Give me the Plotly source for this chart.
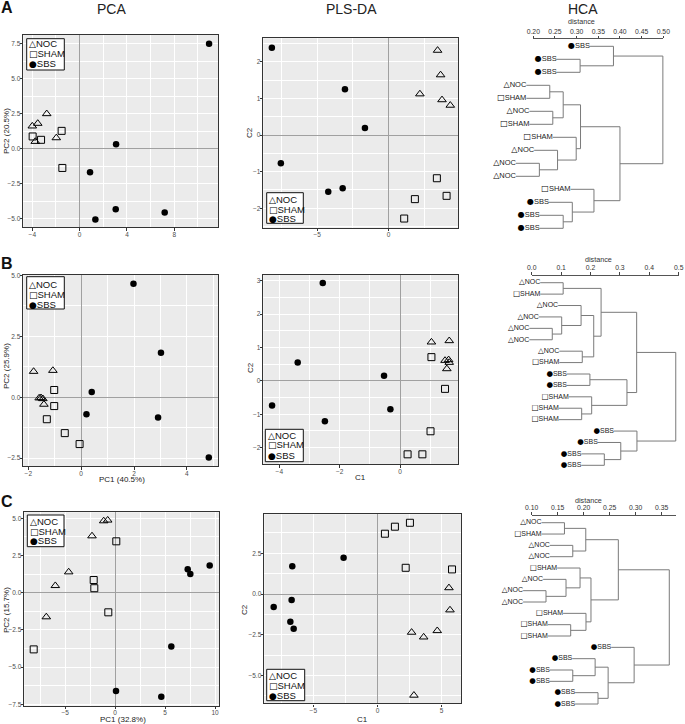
import plotly.graph_objects as go

W, H = 685, 724
FONT = "Liberation Sans, Arial, Helvetica, sans-serif"

# ---------------- data ----------------
groups = ["NOC", "SHAM", "SBS"]

# Row A
pca_a_noc_x = [-4.00, -3.54, -2.78, -3.75, -1.97]
pca_a_noc_y = [1.61, 1.80, 2.49, 0.51, 0.77]
pca_a_sham_x = [-3.97, -3.26, -1.52, -1.46]
pca_a_sham_y = [0.87, 0.63, 1.27, -1.38]
pca_a_sbs_x = [10.94, 3.08, 0.88, 3.05, 7.19, 1.33]
pca_a_sbs_y = [7.50, 0.32, -1.68, -4.33, -4.57, -5.07]

pls_a_noc_x = [3.43, 3.64, 2.19, 3.74, 4.32]
pls_a_noc_y = [2.31, 1.64, 1.12, 0.96, 0.81]
pls_a_sham_x = [3.38, 4.06, 1.84, 1.09]
pls_a_sham_y = [-1.18, -1.66, -1.75, -2.28]
pls_a_sbs_x = [-8.18, -3.06, -1.66, -7.55, -4.23, -3.22]
pls_a_sbs_y = [2.38, 1.25, 0.19, -0.77, -1.55, -1.45]

# Row B
pca_b_noc_x = [-1.80, -1.07, -1.59, -1.45, -1.41, -1.52]
pca_b_noc_y = [1.06, 1.10, -0.03, -0.06, -0.29, -0.02]
pca_b_sham_x = [-1.02, -1.02, -1.30, -0.62, -0.06]
pca_b_sham_y = [0.30, -0.36, -0.90, -1.47, -1.92]
pca_b_sbs_x = [1.98, 3.02, 0.40, 0.20, 2.91, 4.83]
pca_b_sbs_y = [4.66, 1.83, 0.22, -0.70, -0.83, -2.47]

pls_b_noc_x = [1.04, 1.63, 1.49, 1.61, 1.63, 1.55]
pls_b_noc_y = [1.16, 1.20, 0.61, 0.63, 0.55, 0.36]
pls_b_sham_x = [1.04, 1.49, 1.01, 0.25, 0.74]
pls_b_sham_y = [0.71, -0.24, -1.51, -2.20, -2.20]
pls_b_sbs_x = [-2.56, -3.39, -4.24, -2.49, -0.53, -0.32]
pls_b_sbs_y = [2.93, 0.55, -0.74, -1.21, 0.15, -0.85]

# Row C
pca_c_noc_x = [-1.14, -0.74, -2.31, -4.64, -5.98, -6.88]
pca_c_noc_y = [4.82, 4.87, 3.81, 1.39, 0.47, -1.63]
pca_c_sham_x = [0.12, -2.14, -2.08, -0.68, -8.14]
pca_c_sham_y = [3.45, 0.85, 0.30, -1.32, -3.81]
pca_c_sbs_x = [7.26, 7.52, 9.46, 5.62, 0.09, 4.62]
pca_c_sbs_y = [1.57, 1.26, 1.82, -3.61, -6.61, -6.99]

pls_c_noc_x = [5.57, 5.65, 2.66, 3.60, 4.66, 2.84]
pls_c_noc_y = [0.38, -0.98, -2.35, -2.64, -2.25, -6.21]
pls_c_sham_x = [0.58, 1.36, 2.53, 2.20, 5.81]
pls_c_sham_y = [3.70, 4.13, 4.37, 1.61, 1.51]
pls_c_sbs_x = [-2.64, -6.64, -6.69, -8.09, -6.79, -6.53]
pls_c_sbs_y = [2.22, 1.70, -0.37, -0.80, -1.70, -2.13]

# HCA dendrograms: leaf labels (top to bottom) and nested merges (left, right, height)
hca_a_leaves = ["SBS", "SBS", "SBS", "NOC", "SHAM", "NOC", "SHAM", "SHAM",
                "NOC", "NOC", "NOC", "SHAM", "SBS", "SBS", "SBS"]
hca_a_tree = (
    (0, (1, 2, 0.308), 0.385),
    ((((3, 4, 0.238), (5, 6, 0.245), 0.269),
      (7, (8, (9, 10, 0.214), 0.256), 0.299), 0.309),
     (11, (12, (13, 14, 0.269), 0.290), 0.340), 0.400),
    0.499)

hca_b_leaves = ["NOC", "SHAM", "NOC", "NOC", "NOC", "NOC", "NOC", "SHAM", "SBS",
                "SBS", "SHAM", "SHAM", "SHAM", "SBS", "SBS", "SBS", "SBS"]
hca_b_tree = (
    (((0, 1, 0.107),
      ((2, (3, (4, 5, 0.070), 0.102), 0.168), (6, 7, 0.172), 0.211), 0.236),
     ((8, 9, 0.198), (10, (11, 12, 0.170), 0.204), 0.324), 0.357),
    (13, (14, (15, 16, 0.247), 0.303), 0.358),
    0.490)

hca_c_leaves = ["NOC", "SHAM", "NOC", "NOC", "SHAM", "NOC", "NOC", "NOC", "SHAM",
                "SHAM", "SHAM", "SBS", "SBS", "SBS", "SBS", "SBS", "SBS"]
hca_c_tree = (
    (((0, 1, 0.163), (2, 3, 0.179), 0.204),
     ((4, (5, (6, 7, 0.1275), 0.166), 0.193), (8, (9, 10, 0.175), 0.2044), 0.214),
     0.2666),
    (11, ((12, (13, 14, 0.179), 0.222), (15, 16, 0.2275), 0.247), 0.297),
    0.3646)

# ---------------- styling helpers ----------------
marker_style = {
    "NOC": dict(symbol="triangle-up-open", size=7.5, color="black", line=dict(width=1, color="black")),
    "SHAM": dict(symbol="square-open", size=7, color="black", line=dict(width=1, color="black")),
    "SBS": dict(symbol="circle", size=6.5, color="black", line=dict(width=0)),
}
glyph = {"NOC": "△", "SHAM": "□", "SBS": "●"}
glyph_scale = {"NOC": 1.0, "SHAM": 1.0, "SBS": 1.0}


def label_html(grp, gsize):
    return ('<span style="font-family:DejaVu Sans;font-size:%gpx;color:#000">%s</span>%s'
            % (gsize * glyph_scale[grp], glyph[grp], grp))


def px_x(p):
    return p / W


def px_y(p):
    return 1 - p / H


def xdom(a, b):
    return [px_x(a), px_x(b)]


def ydom(top, bottom):
    return [px_y(bottom), px_y(top)]


def ann(text, x, y, size, color="#222", xanchor="center", yanchor="middle", **kw):
    d = dict(text=text, x=px_x(x), y=px_y(y), xref="paper", yref="paper", showarrow=False,
             font=dict(size=size, family=FONT, color=color), xanchor=xanchor, yanchor=yanchor)
    d.update(kw)
    return d


panels = [
    dict(data=[(pca_a_noc_x, pca_a_noc_y), (pca_a_sham_x, pca_a_sham_y), (pca_a_sbs_x, pca_a_sbs_y)],
         xd=(23.3, 218.3), yd=(35, 227), xr=(-4.76, 11.72), yr=(-5.6, 8.12),
         xt=(4, 2), yt=(2.5, 1.25), xf="d", yf=".1f",
         ytitle=("PC2 (20.5%)", 6, 131), xtitle=None,
         box=(26.7, 38.7, 64.3, 70.0), rows=(43.7, 53.7, 63.3)),
    dict(data=[(pls_a_noc_x, pls_a_noc_y), (pls_a_sham_x, pls_a_sham_y), (pls_a_sbs_x, pls_a_sbs_y)],
         xd=(263.3, 458.0), yd=(38.3, 227.7), xr=(-8.78, 4.86), yr=(-2.53, 2.64),
         xt=(5, 2.5), yt=(1, 0.5), xf="d", yf="d",
         ytitle=("C2", 250, 133), xtitle=None,
         box=(266.7, 192.7, 303.3, 223.3), rows=(200.0, 209.3, 219.0)),
    dict(data=[(pca_b_noc_x, pca_b_noc_y), (pca_b_sham_x, pca_b_sham_y), (pca_b_sbs_x, pca_b_sbs_y)],
         xd=(23.3, 218.3), yd=(275, 466), xr=(-2.19, 5.19), yr=(-2.82, 5.02),
         xt=(2, 1), yt=(2.5, 1.25), xf="d", yf=".1f",
         ytitle=("PC2 (25.9%)", 6, 366), xtitle=("PC1 (40.5%)", 121.7, 479.5),
         box=(26.7, 276.7, 64.3, 309.0), rows=(284.0, 294.3, 304.3)),
    dict(data=[(pls_b_noc_x, pls_b_noc_y), (pls_b_sham_x, pls_b_sham_y), (pls_b_sbs_x, pls_b_sbs_y)],
         xd=(263.3, 458.3), yd=(275, 464), xr=(-4.53, 1.93), yr=(-2.49, 3.17),
         xt=(2, 1), yt=(1, 0.5), xf="d", yf="d",
         ytitle=("C2", 250, 368), xtitle=("C1", 360.7, 477.5),
         box=(265.3, 429.3, 303.3, 461.7), rows=(435.0, 445.0, 455.0)),
    dict(data=[(pca_c_noc_x, pca_c_noc_y), (pca_c_sham_x, pca_c_sham_y), (pca_c_sbs_x, pca_c_sbs_y)],
         xd=(24.3, 219.0), yd=(512.3, 705.5), xr=(-9.08, 10.39), yr=(-7.58, 5.40),
         xt=(5, 2.5), yt=(2.5, 1.25), xf="d", yf=".1f",
         ytitle=("PC2 (15.7%)", 6, 610), xtitle=("PC1 (32.8%)", 122.7, 719.5),
         box=(27.3, 515.0, 64.0, 546.7), rows=(521.0, 531.0, 540.7)),
    dict(data=[(pls_c_noc_x, pls_c_noc_y), (pls_c_sham_x, pls_c_sham_y), (pls_c_sbs_x, pls_c_sbs_y)],
         xd=(264.3, 461.0), yd=(514.3, 703.3), xr=(-8.82, 6.51), yr=(-6.70, 4.89),
         xt=(5, 2.5), yt=(2.5, 1.25), xf="d", yf=".1f",
         ytitle=("C2", 244, 610), xtitle=("C1", 362.7, 719.0),
         box=(266.7, 669.3, 304.7, 700.7), rows=(675.7, 685.3, 695.0)),
]

fig = go.Figure()
layout = dict(width=W, height=H, margin=dict(l=0, r=0, t=0, b=0, pad=0),
              paper_bgcolor="white", plot_bgcolor="rgba(0,0,0,0)", showlegend=False,
              font=dict(family=FONT, color="#222"))
shapes, annotations = [], []


def sid(i):
    return "" if i == 1 else str(i)


def scatter_axis(dom, rng, major, minor, fmt, anchor):
    return dict(domain=dom, range=list(rng), anchor=anchor, autorange=False,
                dtick=major, tick0=0, tickformat=fmt,
                ticks="outside", ticklen=2.5, tickwidth=1, tickcolor="#333",
                ticklabelstandoff=-2,
                tickfont=dict(size=6.5, color="#4d4d4d", family=FONT),
                showline=True, mirror=True, linecolor="#333", linewidth=1.4,
                showgrid=True, gridcolor="white", gridwidth=1.1,
                minor=dict(dtick=minor, tick0=0, showgrid=True, gridcolor="white", gridwidth=0.5, ticks=""),
                zeroline=True, zerolinecolor="#a0a0a0", zerolinewidth=1,
                automargin=False, fixedrange=True)


for i, p in enumerate(panels, start=1):
    s = sid(i)
    for grp, (xs, ys) in zip(groups, p["data"]):
        fig.add_trace(go.Scatter(x=xs, y=ys, mode="markers", name=grp,
                                 xaxis="x" + s, yaxis="y" + s,
                                 marker=marker_style[grp], showlegend=False,
                                 cliponaxis=False))
    layout["xaxis" + s] = scatter_axis(xdom(*p["xd"]), p["xr"], p["xt"][0], p["xt"][1], p["xf"], "y" + s)
    layout["yaxis" + s] = scatter_axis(ydom(*p["yd"]), p["yr"], p["yt"][0], p["yt"][1], p["yf"], "x" + s)
    # ggplot-like grey panel background
    shapes.append(dict(type="rect", xref="x" + s + " domain", yref="y" + s + " domain",
                       x0=0, x1=1, y0=0, y1=1, fillcolor="#EBEBEB", line=dict(width=0), layer="below"))
    # axis titles
    t, x, y = p["ytitle"]
    annotations.append(ann(t, x, y, 8, textangle=-90))
    if p["xtitle"]:
        t, x, y = p["xtitle"]
        annotations.append(ann(t, x, y, 8))
    # legend box
    bx0, by0, bx1, by1 = p["box"]
    shapes.append(dict(type="rect", xref="paper", yref="paper",
                       x0=px_x(bx0), x1=px_x(bx1), y0=px_y(by1), y1=px_y(by0),
                       fillcolor="white", line=dict(width=1, color="#111"), layer="above"))
    for grp, ry in zip(groups, p["rows"]):
        annotations.append(ann(label_html(grp, 9), bx0 + 1.5, ry, 9.5, color="#111",
                               xanchor="left", borderpad=0))


# ---------------- dendrograms ----------------
def build_dendrogram(tree, hang):
    xs, ys, lx, ly, lidx = [], [], [], [], []

    def walk(node):
        if isinstance(node, int):
            return None, float(node + 1), node
        a, b, h = node
        cy = []
        for child in (a, b):
            hc, yc, leaf = walk(child)
            start = h - hang if hc is None else hc
            if hc is None:
                lx.append(start)
                ly.append(yc)
                lidx.append(leaf)
            xs.extend([start, h, None])
            ys.extend([yc, yc, None])
            cy.append(yc)
        xs.extend([h, h, None])
        ys.extend([cy[0], cy[1], None])
        return h, (cy[0] + cy[1]) / 2, None

    walk(tree)
    return xs, ys, lx, ly, lidx


hca = [
    dict(leaves=hca_a_leaves, tree=hca_a_tree, hang=0.054, px0=533.3, d0=0.20, scale=433.3,
         leaf_top=46.3, leaf_bot=228.3, ruler_y=39.3, ruler=(0.20, 0.50), dtick=0.05, fmt=".2f",
         label_size=7.5, glyph_size=8, dist=(581, 22.0)),
    dict(leaves=hca_b_leaves, tree=hca_b_tree, hang=0.078, px0=531.7, d0=0.0, scale=294.0,
         leaf_top=282.7, leaf_bot=465.3, ruler_y=275.7, ruler=(0.0, 0.50), dtick=0.1, fmt=".1f",
         label_size=7, glyph_size=7.5, dist=(598, 259.5)),
    dict(leaves=hca_c_leaves, tree=hca_c_tree, hang=0.044, px0=531.7, d0=0.10, scale=520.0,
         leaf_top=522.7, leaf_bot=704.0, ruler_y=515.7, ruler=(0.10, 0.378), dtick=0.05, fmt=".2f",
         label_size=7, glyph_size=7.5, dist=(588, 500.5)),
]

for k, d in enumerate(hca):
    di = 7 + k          # dendrogram axes
    ri = 10 + k         # ruler axes
    n = len(d["leaves"])
    xs, ys, lx, ly, lidx = build_dendrogram(d["tree"], d["hang"])
    fig.add_trace(go.Scatter(x=xs, y=ys, mode="lines", line=dict(color="#7a7a7a", width=1),
                             xaxis="x%d" % di, yaxis="y%d" % di, showlegend=False, hoverinfo="skip"))
    fig.add_trace(go.Scatter(x=lx, y=ly, mode="text",
                             text=[label_html(d["leaves"][j], d["glyph_size"]) for j in lidx],
                             textposition="middle left",
                             textfont=dict(size=d["label_size"], color="#222", family=FONT),
                             xaxis="x%d" % di, yaxis="y%d" % di, showlegend=False, cliponaxis=False,
                             hoverinfo="skip"))
    left_px, right_px = 480.0, 685.0
    xr = [d["d0"] - (d["px0"] - left_px) / d["scale"], d["d0"] + (right_px - d["px0"]) / d["scale"]]
    sp = (d["leaf_bot"] - d["leaf_top"]) / (n - 1)
    layout["xaxis%d" % di] = dict(domain=xdom(left_px, right_px), range=xr, visible=False,
                                  anchor="y%d" % di, fixedrange=True)
    layout["yaxis%d" % di] = dict(domain=ydom(d["leaf_top"] - sp / 2, d["leaf_bot"] + sp / 2),
                                  range=[n + 0.5, 0.5], visible=False, anchor="x%d" % di, fixedrange=True)
    # distance ruler (top axis) on its own thin subplot
    r0, r1 = d["ruler"]
    rx0 = d["px0"] + (r0 - d["d0"]) * d["scale"]
    rx1 = d["px0"] + (r1 - d["d0"]) * d["scale"]
    fig.add_trace(go.Scatter(x=[r0], y=[0], mode="markers", marker=dict(opacity=0),
                             xaxis="x%d" % ri, yaxis="y%d" % ri, showlegend=False, hoverinfo="skip"))
    layout["xaxis%d" % ri] = dict(domain=xdom(rx0, rx1), range=[r0, r1], side="top",
                                  anchor="y%d" % ri,
                                  dtick=d["dtick"], tick0=0, tickformat=d["fmt"],
                                  ticks="outside", ticklen=2.5, tickwidth=1, tickcolor="#444",
                                  ticklabelstandoff=-1,
                                  tickfont=dict(size=6.8, color="#333", family=FONT),
                                  showline=True, linecolor="#555", linewidth=1,
                                  showgrid=False, zeroline=False, automargin=False, fixedrange=True)
    layout["yaxis%d" % ri] = dict(domain=ydom(d["ruler_y"], d["ruler_y"] + 1), range=[-1, 1],
                                  visible=False, anchor="x%d" % ri, fixedrange=True)
    annotations.append(ann("distance", d["dist"][0], d["dist"][1], 7.2, color="#333"))

# ---------------- titles / panel letters ----------------
annotations.append(ann("PCA", 111, 8.5, 14))
annotations.append(ann("PLS-DA", 351.7, 8.5, 14))
annotations.append(ann("HCA", 582.5, 8.5, 14))
annotations.append(ann("<b>A</b>", 7, 7, 16, color="#111"))
annotations.append(ann("<b>B</b>", 7, 264, 16, color="#111"))
annotations.append(ann("<b>C</b>", 7, 501.7, 16, color="#111"))

layout["shapes"] = shapes
layout["annotations"] = annotations
fig.update_layout(**layout)

fig.write_html("out.html", include_plotlyjs=True, full_html=True,
               config={"displayModeBar": False},
               post_script="document.body.style.margin='0px';")
